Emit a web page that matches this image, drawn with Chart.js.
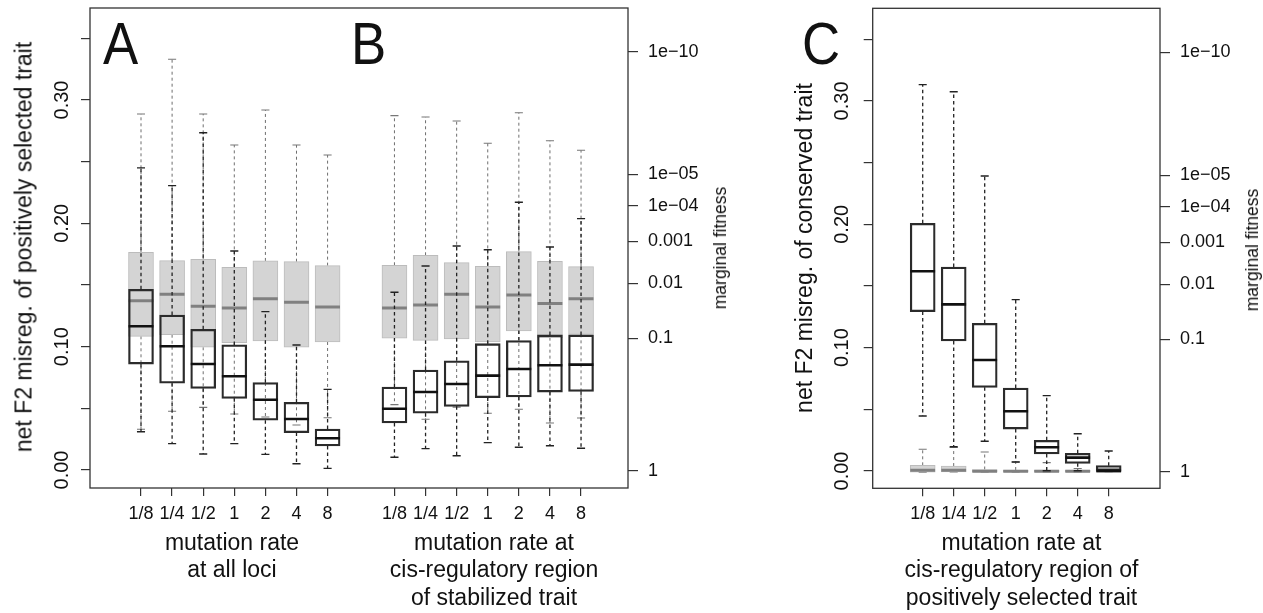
<!DOCTYPE html>
<html>
<head>
<meta charset="utf-8">
<script src="https://cdn.jsdelivr.net/npm/chart.js@4.4.0/dist/chart.umd.min.js"></script>
<style>
html,body{margin:0;padding:0;background:#fff;}
#wrap{position:relative;width:1263px;height:613px;overflow:hidden;font-family:"Liberation Sans",Arial,Helvetica,sans-serif;color:#111;}
canvas{position:absolute;top:0;}
.xt{position:absolute;width:320px;text-align:center;font-size:23px;line-height:27.6px;top:528.9px;white-space:nowrap;}
.yt{position:absolute;font-size:23px;line-height:27px;transform:translate(-50%,-50%) rotate(-90deg);white-space:nowrap;}
.rt{position:absolute;font-size:17.5px;line-height:20px;transform:translate(-50%,-50%) rotate(-90deg);white-space:nowrap;}
.pl{position:absolute;font-size:60px;line-height:60px;transform:scaleX(0.88);transform-origin:0 0;top:13.7px;}
</style>
</head>
<body>
<div id="wrap">
<canvas id="c1" width="740" height="613" style="left:0px;width:740px;height:613px"></canvas>
<canvas id="c2" width="523" height="613" style="left:740px;width:523px;height:613px"></canvas>

<div class="pl" style="left:103px">A</div>
<div class="pl" style="left:351px">B</div>
<div class="pl" style="left:802px">C</div>

<div class="yt" style="left:24.3px;top:247px">net F2 misreg. of positively selected trait</div>
<div class="yt" style="left:803.5px;top:247.5px">net F2 misreg. of conserved trait</div>
<div class="rt" style="left:720.3px;top:247.5px">marginal fitness</div>
<div class="rt" style="left:1251.5px;top:250px">marginal fitness</div>

<div class="xt" style="left:72px">mutation rate<br>at all loci</div>
<div class="xt" style="left:334px">mutation rate at<br>cis-regulatory region<br>of stabilized trait</div>
<div class="xt" style="left:861.5px">mutation rate at<br>cis-regulatory region of<br>positively selected trait</div>
</div>

<script>
// ---------------- data ----------------
const rates = ['1/8','1/4','1/2','1','2','4','8'];
const yTickValues = [0, 0.05, 0.10, 0.15, 0.20, 0.25, 0.30, 0.35];
const yTickLabels = ['0.00','','0.10','','0.20','','0.30',''];
const fitTickLabels = ['1','0.1','0.01','0.001','1e\u221204','1e\u221205','1e\u221210'];
const fitTickDecades = [0, 1, 2, 3, 4, 5, 10];

// Panel A (mutation rate at all loci) - misregulation boxplots
const A_low  = [0.0310, 0.0214, 0.0130, 0.0214, 0.0127, 0.0051, 0.0013];
const A_q1   = [0.0859, 0.0703, 0.0662, 0.0581, 0.0403, 0.0303, 0.0195];
const A_med  = [0.1165, 0.1003, 0.0859, 0.0760, 0.0570, 0.0414, 0.0257];
const A_q3   = [0.1465, 0.1257, 0.1141, 0.1014, 0.0708, 0.0549, 0.0332];
const A_high = [0.2450, 0.2306, 0.2735, 0.1776, 0.1284, 0.1014, 0.0654];
// Panel A - marginal fitness boxplots (grey)
const Ag_low  = [0.0330, 0.0476, 0.0508, 0.0454, 0.0430, 0.0365, 0.0424];
const Ag_q1   = [0.1084, 0.1097, 0.0995, 0.1032, 0.1046, 0.0995, 0.1038];
const Ag_med  = [0.1373, 0.1424, 0.1327, 0.1314, 0.1389, 0.1360, 0.1322];
const Ag_q3   = [0.1765, 0.1697, 0.1708, 0.1643, 0.1695, 0.1689, 0.1657];
const Ag_high = [0.2887, 0.3330, 0.2887, 0.2635, 0.2919, 0.2635, 0.2554];

// Panel B (cis-regulatory region of stabilized trait)
const B_low  = [0.0103, 0.0173, 0.0116, 0.0222, 0.0184, 0.0197, 0.0176];
const B_q1   = [0.0381, 0.0460, 0.0516, 0.0587, 0.0592, 0.0632, 0.0638];
const B_med  = [0.0497, 0.0632, 0.0697, 0.0765, 0.0819, 0.0849, 0.0854];
const B_q3   = [0.0673, 0.0811, 0.0886, 0.1024, 0.1049, 0.1095, 0.1095];
const B_high = [0.1441, 0.1654, 0.1816, 0.1786, 0.2171, 0.1808, 0.2038];
const Bg_low  = [0.0530, 0.0411, 0.0510, 0.0460, 0.0492, 0.0381, 0.0422];
const Bg_q1   = [0.1068, 0.1051, 0.1062, 0.1038, 0.1127, 0.1073, 0.1100];
const Bg_med  = [0.1314, 0.1338, 0.1424, 0.1322, 0.1419, 0.1349, 0.1389];
const Bg_q3   = [0.1660, 0.1741, 0.1681, 0.1651, 0.1770, 0.1692, 0.1649];
const Bg_high = [0.2873, 0.2862, 0.2830, 0.2649, 0.2897, 0.2670, 0.2592];

// Panel C (cis-regulatory region of positively selected trait)
const C_low  = [0.0446, 0.0197, 0.0241, 0.0073, 0.0002, 0.0002, 0.0000];
const C_q1   = [0.1292, 0.1054, 0.0678, 0.0340, 0.0138, 0.0062, 0.0000];
const C_med  = [0.1619, 0.1351, 0.0900, 0.0484, 0.0192, 0.0108, 0.0002];
const C_q3   = [0.2008, 0.1654, 0.1197, 0.0673, 0.0249, 0.0143, 0.0043];
const C_high = [0.3132, 0.3075, 0.2392, 0.1389, 0.0611, 0.0302, 0.0162];
const Cg_low  = [-0.0009, -0.0008, -0.0008, -0.0008, -0.0008, -0.0008, -0.0008];
const Cg_q1   = [-0.0009, -0.0008, -0.0008, -0.0008, -0.0008, -0.0008, -0.0008];
const Cg_med  = [0.0006, 0.0006, -0.0003, -0.0003, -0.0003, -0.0003, -0.0003];
const Cg_q3   = [0.0046, 0.0040, 0.0012, 0.0008, 0.0008, 0.0008, 0.0008];
const Cg_high = [0.0176, 0.0190, 0.0154, 0.0073, 0.0068, 0.0020, 0.0008];

// ---------------- layout / style constants ----------------
const FONT = '"Liberation Sans", Arial, Helvetica, sans-serif';
const FIT_K = 0.1075, FIT_OFF = -0.0007;   // marginal-fitness axis transform
const B_SHIFT = 8.15;                       // position of group B relative to A
const MED_HW = 0.4, STAPLE_HW = 0.13, BOX_PX = 25;

const posA = rates.map((_, i) => i + 1);
const posB = rates.map((_, i) => i + 1 + B_SHIFT);
const posC = rates.map((_, i) => i + 1);

function series(low, q1, med, q3, high) { return {low, q1, med, q3, high}; }

function whiskerPts(pos, s) {
  const out = [];
  pos.forEach((x, i) => {
    out.push({x, y: s.q3[i]}, {x, y: s.high[i]}, {x, y: null});
    out.push({x, y: s.q1[i]}, {x, y: s.low[i]}, {x, y: null});
  });
  return out;
}
function staplePts(pos, s) {
  const out = [];
  pos.forEach((x, i) => {
    out.push({x: x - STAPLE_HW, y: s.high[i]}, {x: x + STAPLE_HW, y: s.high[i]}, {x, y: null});
    out.push({x: x - STAPLE_HW, y: s.low[i]}, {x: x + STAPLE_HW, y: s.low[i]}, {x, y: null});
  });
  return out;
}
function medianPts(pos, s) {
  const out = [];
  pos.forEach((x, i) => {
    out.push({x: x - MED_HW, y: s.med[i]}, {x: x + MED_HW, y: s.med[i]}, {x, y: null});
  });
  return out;
}
function lineDs(data, color, width, dash, order) {
  return {type: 'line', data, borderColor: color, borderWidth: width, borderDash: dash,
          pointRadius: 0, pointHoverRadius: 0, tension: 0, fill: false, spanGaps: false,
          borderCapStyle: 'butt', order};
}
function boxDs(pos, s, fill, stroke, width, order) {
  return {type: 'bar', data: pos.map((x, i) => ({x, y: [s.q1[i], s.q3[i]]})),
          backgroundColor: fill, borderColor: stroke, borderWidth: width,
          borderSkipped: false, barThickness: BOX_PX, grouped: false, order};
}
function buildDatasets(pos, black, grey) {
  return [
    lineDs(whiskerPts(pos, grey), '#6e6e6e', 1, [3, 3], 7),
    lineDs(staplePts(pos, grey), '#777', 1.1, [], 6),
    boxDs(pos, grey, '#d4d4d4', '#bcbcbc', 1, 5),
    lineDs(medianPts(pos, grey), '#808080', 3, [], 4),
    boxDs(pos, black, 'rgba(255,255,255,0)', '#2b2b2b', 1.6, 3),
    lineDs(whiskerPts(pos, black), '#222', 1.3, [3.5, 3], 2),
    lineDs(staplePts(pos, black), '#222', 1.4, [], 1),
    lineDs(medianPts(pos, black), '#111', 2.6, [], 0)
  ];
}

const framePlugin = {
  id: 'frameLabels',
  afterDraw(chart, args, opts) {
    const {ctx, chartArea, scales} = chart;
    ctx.save();
    ctx.strokeStyle = '#333';
    ctx.lineWidth = 1.3;
    ctx.strokeRect(chartArea.left, chartArea.top, chartArea.right - chartArea.left, chartArea.bottom - chartArea.top);
    ctx.fillStyle = '#111';
    ctx.font = '20px ' + FONT;
    ctx.textAlign = 'center';
    ctx.textBaseline = 'middle';
    yTickValues.forEach((v, i) => {
      if (!yTickLabels[i]) return;
      const y = scales.y.getPixelForValue(v);
      ctx.save();
      ctx.translate(opts.labelX, y);
      ctx.rotate(-Math.PI / 2);
      ctx.fillText(yTickLabels[i], 0, 0);
      ctx.restore();
    });
    ctx.restore();
  }
};

function makeChart(canvasId, cfg) {
  const W = cfg.W, H = 613;
  const gridBase = {drawOnChartArea: false, drawTicks: true, color: '#333', lineWidth: 1.2};
  return new Chart(document.getElementById(canvasId), {
    type: 'bar',
    data: {datasets: cfg.datasets},
    plugins: [framePlugin],
    options: {
      responsive: false, animation: false, devicePixelRatio: 1,
      layout: {padding: {top: cfg.top, left: 0, right: 0, bottom: 0}},
      plugins: {legend: {display: false}, tooltip: {enabled: false}, frameLabels: {labelX: cfg.labelX}},
      events: [],
      scales: {
        x: {
          type: 'linear', position: 'bottom', min: cfg.xMin, max: cfg.xMax, offset: false,
          grid: Object.assign({}, gridBase, {tickLength: 8, offset: false}),
          border: {display: false},
          ticks: {autoSkip: false, maxRotation: 0, minRotation: 0, padding: 7, color: '#111',
                  font: {size: 18, family: FONT}, callback: (v, i) => cfg.xLabels[i]},
          afterBuildTicks: s => { s.ticks = cfg.xPos.map(v => ({value: v})); },
          afterFit: s => { s.height = H - cfg.bottom; s.paddingLeft = 0; s.paddingRight = 0; }
        },
        y: {
          type: 'linear', position: 'left', min: cfg.yMin, max: cfg.yMax,
          grid: Object.assign({}, gridBase, {tickLength: 9}),
          border: {display: false},
          ticks: {display: false},
          afterBuildTicks: s => { s.ticks = yTickValues.map(v => ({value: v})); },
          afterFit: s => { s.width = cfg.left; s.paddingTop = 0; s.paddingBottom = 0; }
        },
        y2: {
          type: 'linear', position: 'right', min: cfg.yMin, max: cfg.yMax,
          grid: Object.assign({}, gridBase, {tickLength: 10}),
          border: {display: false},
          ticks: {autoSkip: false, padding: 10, color: '#111', font: {size: 18, family: FONT},
                  callback: (v, i) => fitTickLabels[i]},
          afterBuildTicks: s => { s.ticks = fitTickDecades.map(d => ({value: FIT_OFF + FIT_K * Math.sqrt(d)})); },
          afterFit: s => { s.width = W - cfg.right; s.paddingTop = 0; s.paddingBottom = 0; }
        }
      }
    }
  });
}

const dsAB = buildDatasets(posA, series(A_low, A_q1, A_med, A_q3, A_high),
                                 series(Ag_low, Ag_q1, Ag_med, Ag_q3, Ag_high))
  .concat(buildDatasets(posB, series(B_low, B_q1, B_med, B_q3, B_high),
                              series(Bg_low, Bg_q1, Bg_med, Bg_q3, Bg_high)));

makeChart('c1', {
  W: 740, left: 90, right: 628, top: 8, bottom: 488,
  xMin: -0.64, xMax: 16.66, yMin: -0.0146, yMax: 0.3746,
  xPos: posA.concat(posB), xLabels: rates.concat(rates), labelX: 62,
  datasets: dsAB
});

makeChart('c2', {
  W: 523, left: 132.7, right: 420, top: 8.3, bottom: 488.3,
  xMin: -0.613, xMax: 8.655, yMin: -0.01403, yMax: 0.3751,
  xPos: posC, xLabels: rates, labelX: 102,
  datasets: buildDatasets(posC, series(C_low, C_q1, C_med, C_q3, C_high),
                                series(Cg_low, Cg_q1, Cg_med, Cg_q3, Cg_high))
});
</script>
</body>
</html>
